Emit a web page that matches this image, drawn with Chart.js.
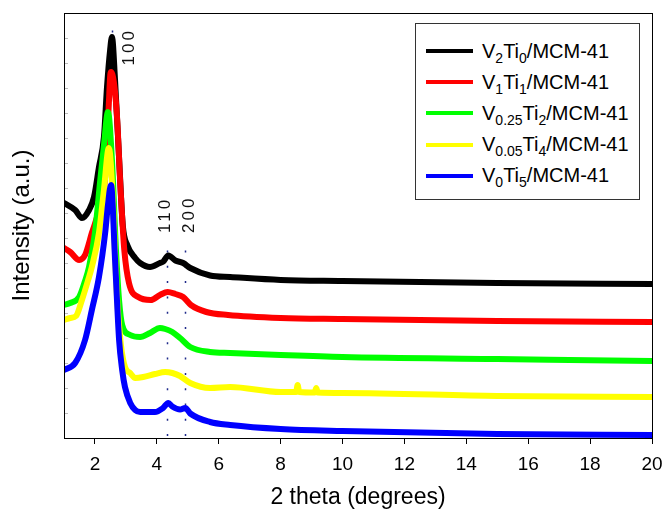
<!DOCTYPE html>
<html>
<head>
<meta charset="utf-8">
<script src="https://cdn.jsdelivr.net/npm/chart.js@4.4.0/dist/chart.umd.min.js"></script>
<style>
    body { margin: 0; background: #fff; }
    #wrap { position: relative; width: 663px; height: 515px; }
    #legend {
        position: absolute; left: 415px; top: 23px; width: 225px; height: 177px;
        border: 1px solid #333; box-sizing: border-box; background: #fff;
        font-family: 'Liberation Sans', Arial, sans-serif; font-size: 20px; color: #000;
    }
    .item { position: absolute; left: 10px; height: 30px; display: flex; align-items: center; white-space: nowrap; }
    .swatch { width: 47px; height: 4px; margin-right: 9px; }
    .item sub { font-size: 14px; vertical-align: -5px; line-height: 0; }
</style>
</head>
<body>
<div id="wrap">
    <canvas id="xrdChart" width="663" height="515"></canvas>
    <div id="legend"></div>
</div>
<script>
// Nomes das amostras
const seriesNames = [
    'V<sub>2</sub>Ti<sub>0</sub>/MCM-41',
    'V<sub>1</sub>Ti<sub>1</sub>/MCM-41',
    'V<sub>0.25</sub>Ti<sub>2</sub>/MCM-41',
    'V<sub>0.05</sub>Ti<sub>4</sub>/MCM-41',
    'V<sub>0</sub>Ti<sub>5</sub>/MCM-41'
];
const seriesColors = ['#000000', '#ff0000', '#00ff00', '#ffff00', '#0000ff'];

// Difratogramas (2 theta, intensidade u.a.)
const v2ti0X = [1.0, 1.36, 1.58, 1.81, 1.97, 2.13, 2.29, 2.39, 2.49, 2.55, 2.65, 2.8, 2.9, 3.05, 3.3, 3.46, 3.78, 4.1, 4.2, 4.37, 4.6, 4.85, 5.08, 5.72, 6.37, 8, 10, 15, 20];
const v2ti0Y = [9.4, 9.12, 8.8, 9.12, 9.64, 10.84, 12.04, 14.04, 15.52, 16.04, 14.3, 10.7, 8.5, 7.7, 7.2, 7.0, 6.84, 7.0, 7.05, 7.3, 7.1, 7.0, 6.8, 6.5, 6.44, 6.32, 6.28, 6.2, 6.16];

const v1ti1X = [1.0, 1.2, 1.49, 1.68, 1.9, 2.13, 2.33, 2.45, 2.49, 2.52, 2.7, 2.83, 2.95, 3.1, 3.4, 3.8, 4.1, 4.35, 4.6, 4.85, 5.1, 5.6, 6.3, 8, 10, 15, 20];
const v1ti1Y = [7.6, 7.44, 7.12, 7.32, 8.2, 9.12, 10.44, 13.4, 14.44, 14.64, 13.1, 9.9, 7.5, 6.2, 5.64, 5.52, 5.72, 5.84, 5.76, 5.64, 5.32, 5.04, 4.92, 4.8, 4.76, 4.68, 4.64];

const v025ti2X = [1.0, 1.2, 1.49, 1.68, 1.81, 2.0, 2.17, 2.29, 2.42, 2.55, 2.68, 2.78, 2.88, 3.14, 3.46, 3.78, 4.1, 4.27, 4.5, 4.75, 5.08, 5.72, 6.37, 8, 10, 15, 20];
const v025ti2Y = [5.32, 5.4, 5.64, 6.28, 6.84, 8.2, 10.3, 11.7, 13.04, 11.1, 7.5, 5.5, 4.52, 4.12, 4.04, 4.2, 4.4, 4.36, 4.24, 4.0, 3.64, 3.44, 3.4, 3.32, 3.24, 3.16, 3.08];

const v005ti4X = [1.0, 1.2, 1.39, 1.58, 1.78, 1.9, 2.13, 2.29, 2.45, 2.58, 2.7, 2.84, 2.97, 3.14, 3.3, 3.56, 3.94, 4.27, 4.5, 4.75, 5.08, 5.72, 6.37, 8.0, 8.5, 8.55, 8.6, 9.1, 9.15, 9.2, 10, 15, 20];
const v005ti4Y = [4.72, 4.8, 4.88, 5.52, 6.32, 6.84, 8.2, 9.92, 11.6, 9.52, 5.92, 3.72, 2.84, 2.6, 2.4, 2.44, 2.56, 2.64, 2.6, 2.48, 2.2, 2.0, 2.04, 1.84, 1.84, 2.12, 1.84, 1.82, 2.0, 1.82, 1.8, 1.68, 1.64];

const v0ti5X = [1.0, 1.36, 1.68, 1.9, 2.13, 2.33, 2.42, 2.52, 2.65, 2.78, 2.88, 2.97, 3.14, 3.3, 3.46, 3.94, 4.2, 4.37, 4.5, 4.75, 4.92, 5.08, 5.72, 6.37, 8, 10, 15, 20];
const v0ti5Y = [2.72, 3.0, 3.92, 5.12, 6.44, 8.2, 9.32, 10.12, 7.12, 3.92, 2.72, 2.04, 1.4, 1.12, 1.04, 1.04, 1.2, 1.4, 1.26, 1.14, 1.2, 0.98, 0.64, 0.52, 0.36, 0.28, 0.16, 0.12];

const seriesX = [v2ti0X, v1ti1X, v025ti2X, v005ti4X, v0ti5X];
const seriesY = [v2ti0Y, v1ti1Y, v025ti2Y, v005ti4Y, v0ti5Y];

// Ticks do eixo x
const xTicks = [2, 4, 6, 8, 10, 12, 14, 16, 18, 20];

// Reflexoes (hkl) e suas posicoes em 2 theta
const peakLabels = ['100', '110', '200'];
const peakPositions = [2.54, 4.33, 4.92];

// Desenha as linhas pontilhadas e os indices (hkl)
const peakPlugin = {
    id: 'peaks',
    beforeDatasetsDraw(chart) {
        const { ctx, scales: { x, y } } = chart;
        const lineTop = [16.3, 7.5, 7.5];
        const lineBottom = [16.1, 0.05, 0.05];
        ctx.save();
        ctx.strokeStyle = '#1f2a8a';
        ctx.lineWidth = 1.5;
        ctx.setLineDash([2, 13.3]);
        peakPositions.forEach((p, i) => {
            const px = Math.round(x.getPixelForValue(p)) + 0.5;
            ctx.beginPath();
            ctx.moveTo(px, y.getPixelForValue(lineTop[i]));
            ctx.lineTo(px, y.getPixelForValue(lineBottom[i]));
            ctx.stroke();
        });
        ctx.restore();
    },
    afterDatasetsDraw(chart) {
        const { ctx, scales: { x, y } } = chart;
        const dx = [18, -2, 4];
        const startY = [14.9, 8.2, 8.2];
        ctx.save();
        ctx.fillStyle = '#111';
        ctx.font = '17px "Liberation Sans", Arial, sans-serif';
        ctx.letterSpacing = '3px';
        ctx.textAlign = 'left';
        ctx.textBaseline = 'middle';
        peakLabels.forEach((lab, i) => {
            ctx.save();
            ctx.translate(x.getPixelForValue(peakPositions[i]) + dx[i], y.getPixelForValue(startY[i]));
            ctx.rotate(-Math.PI / 2);
            ctx.fillText(lab, 0, 0);
            ctx.restore();
        });
        ctx.restore();
    }
};

// Moldura e ticks internos do eixo y
const framePlugin = {
    id: 'frame',
    afterDraw(chart) {
        const { ctx, chartArea: a, scales: { y } } = chart;
        ctx.save();
        ctx.strokeStyle = '#bbb';
        ctx.lineWidth = 1;
        y.ticks.forEach(t => {
            const py = Math.round(y.getPixelForValue(t.value)) + 0.5;
            ctx.beginPath();
            ctx.moveTo(a.left, py);
            ctx.lineTo(a.left + 4, py);
            ctx.stroke();
        });
        ctx.strokeStyle = '#000';
        ctx.strokeRect(Math.round(a.left) + 0.5, Math.round(a.top) + 0.5, Math.round(a.right - a.left), Math.round(a.bottom - a.top));
        ctx.restore();
    }
};

function buildDatasets() {
    return seriesNames.map((name, i) => ({
        label: name,
        data: seriesX[i].map((v, j) => ({ x: v, y: seriesY[i][j] })),
        borderColor: seriesColors[i],
        backgroundColor: seriesColors[i],
        borderWidth: 6,
        borderJoinStyle: 'round',
        borderCapStyle: 'round',
        pointRadius: 0,
        cubicInterpolationMode: 'monotone',
        fill: false,
        order: seriesNames.length - i
    }));
}

function renderLegend(chart) {
    const box = document.getElementById('legend');
    box.innerHTML = '';
    chart.data.datasets.forEach((ds, i) => {
        const item = document.createElement('div');
        item.className = 'item';
        item.style.top = (12 + i * 31.2) + 'px';
        item.innerHTML = '<span class="swatch" style="background:' + ds.borderColor + '"></span><span>' + ds.label + '</span>';
        box.appendChild(item);
    });
}

const fontFamily = '"Liberation Sans", Arial, sans-serif';

const chart = new Chart(document.getElementById('xrdChart').getContext('2d'), {
    type: 'line',
    data: { datasets: buildDatasets() },
    options: {
        responsive: false,
        animation: false,
        layout: { padding: { top: 13, right: 11, left: 0, bottom: 0 } },
        plugins: { legend: { display: false }, tooltip: { enabled: false } },
        scales: {
            x: {
                type: 'linear',
                min: 1,
                max: 20,
                afterBuildTicks: s => { s.ticks = xTicks.map(v => ({ value: v })); },
                afterFit: s => { s.height = 77; s.paddingRight = 0; s.paddingLeft = 0; },
                grid: { drawOnChartArea: false, tickLength: 6, color: '#000' },
                border: { color: '#000' },
                ticks: { color: '#000', padding: 9, maxRotation: 0, font: { family: fontFamily, size: 19 } },
                title: { display: true, text: '2 theta (degrees)', color: '#000', padding: { top: 0, bottom: 4 }, font: { family: fontFamily, size: 23 } }
            },
            y: {
                min: 0,
                max: 17,
                ticks: { display: false, stepSize: 1 },
                afterFit: s => { s.width = 64; s.paddingTop = 0; s.paddingBottom = 0; },
                grid: { display: false },
                border: { color: '#000' },
                title: { display: true, text: 'Intensity (a.u.)', color: '#000', padding: { top: 8, bottom: 0 }, font: { family: fontFamily, size: 24 } }
            }
        }
    },
    plugins: [peakPlugin, framePlugin]
});

renderLegend(chart);
</script>
</body>
</html>
